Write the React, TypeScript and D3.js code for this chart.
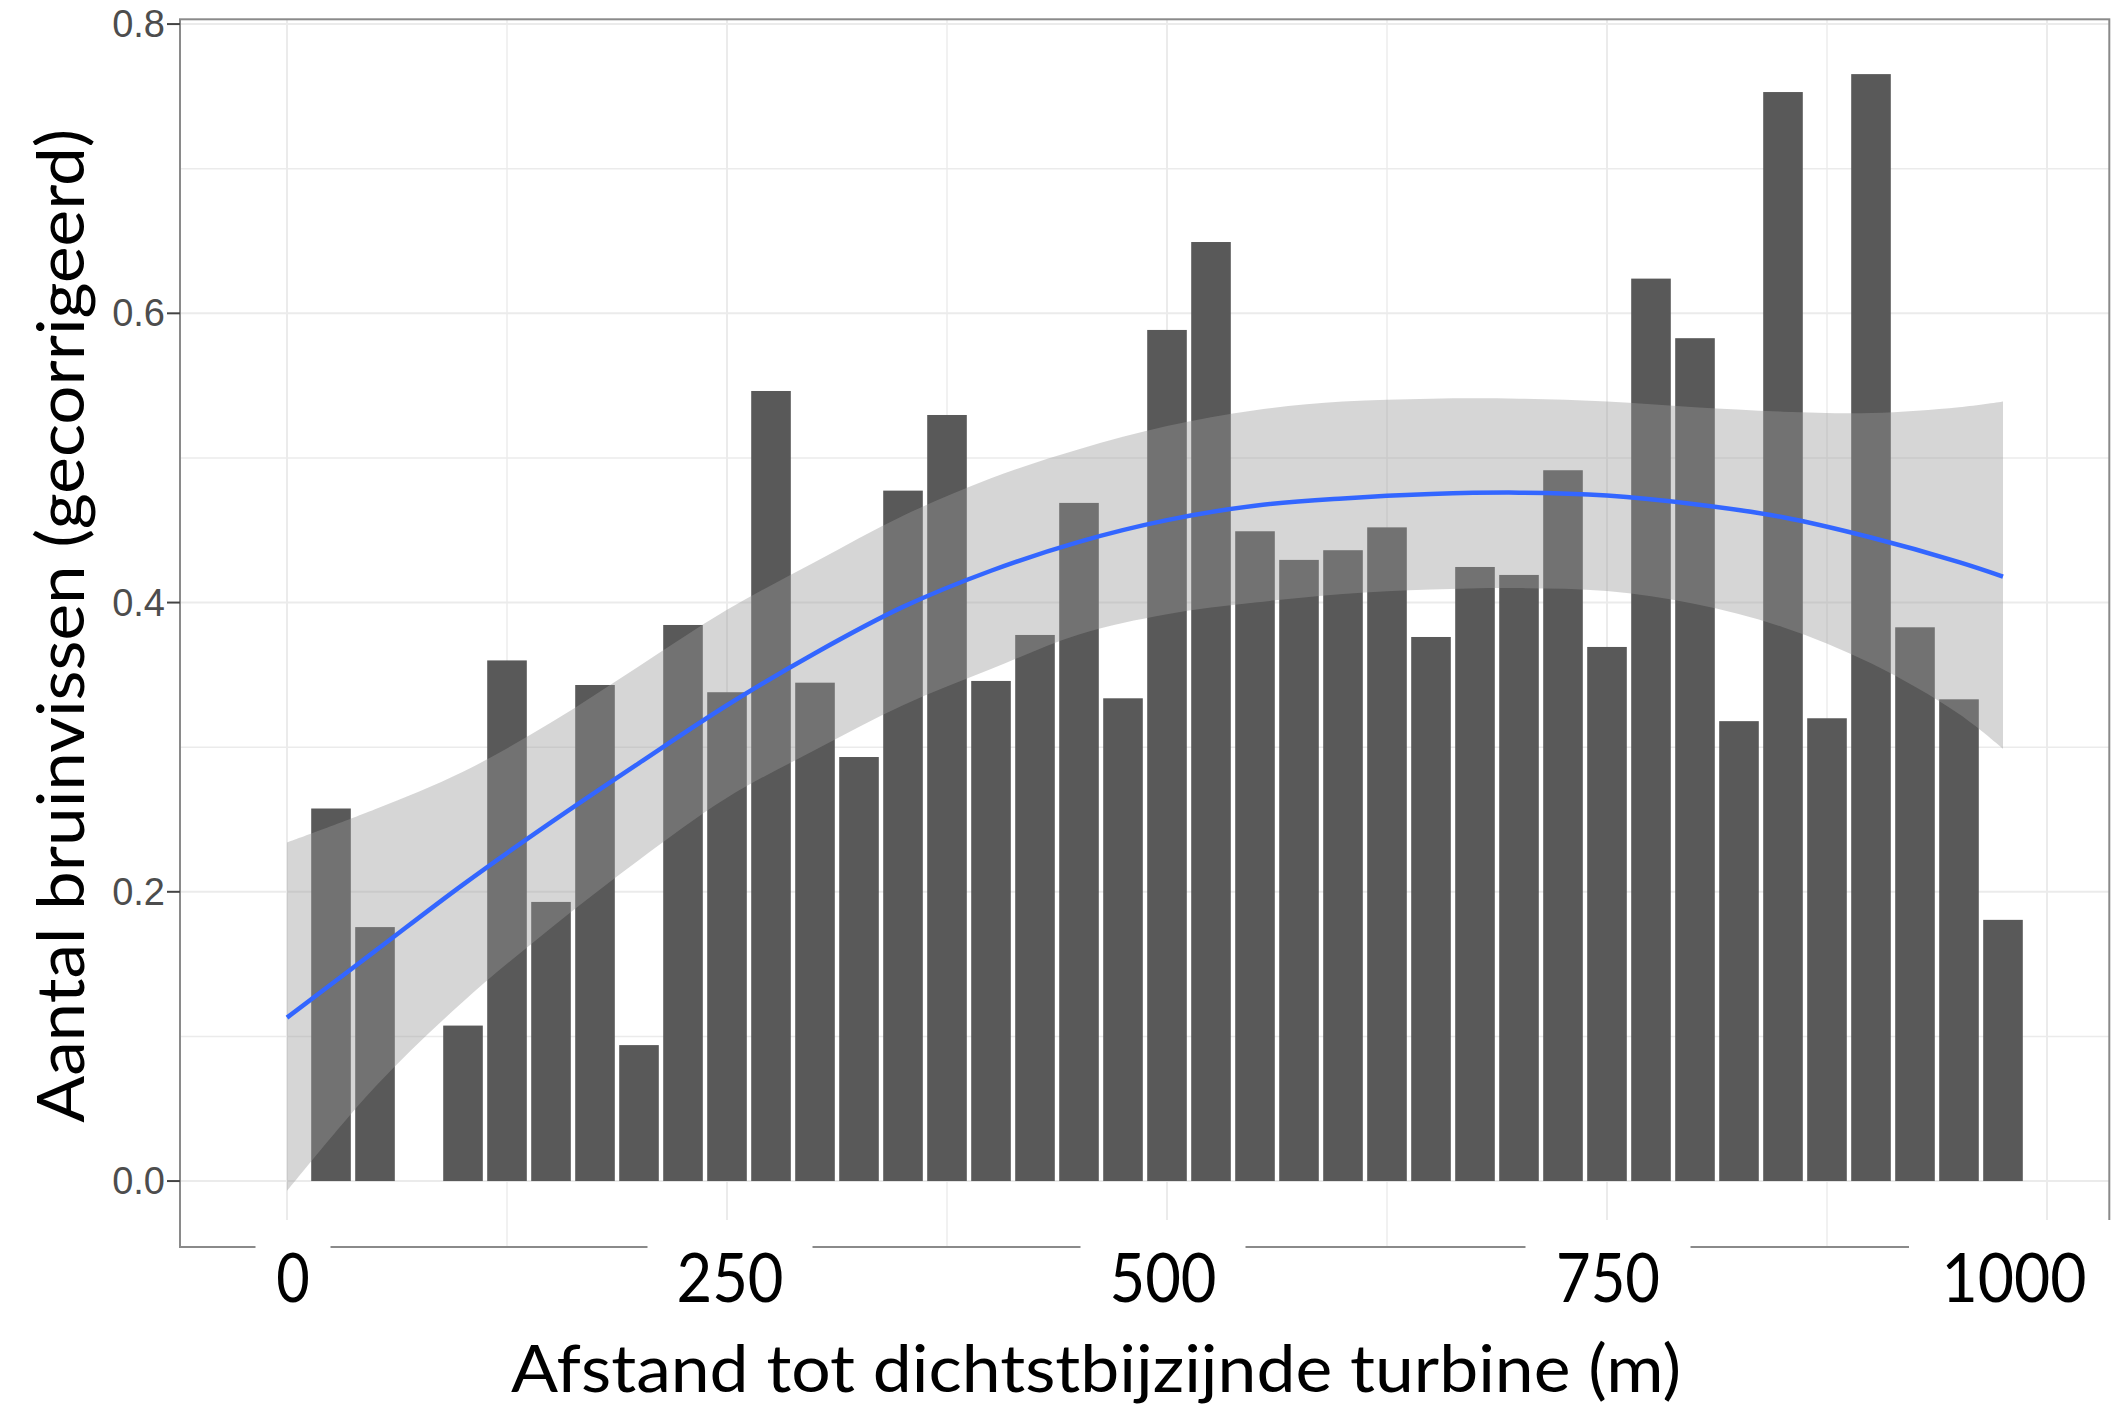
import React from 'react';
import * as d3 from 'd3';

// ---- data ----
const binCenters = [25, 50, 75, 100, 125, 150, 175, 200, 225, 250, 275, 300, 325, 350, 375, 400, 425, 450, 475, 500, 525, 550, 575, 600, 625, 650, 675, 700, 725, 750, 775, 800, 825, 850, 875, 900, 925, 950, 975];
const barValues: (number | null)[] = [0.2576, 0.1756, null, 0.1075, 0.360, 0.193, 0.343, 0.094, 0.3845, 0.338, 0.5463, 0.3446, 0.2932, 0.4774, 0.5297, 0.3458, 0.3776, 0.4689, 0.3338, 0.5885, 0.6493, 0.4493, 0.4295, 0.4362, 0.452, 0.3762, 0.4246, 0.4191, 0.4915, 0.3693, 0.624, 0.5828, 0.318, 0.753, 0.320, 0.7654, 0.3829, 0.3331, 0.1806];

const smoothX = [0, 50, 100, 150, 200, 250, 300, 350, 400, 450, 500, 550, 600, 650, 700, 750, 800, 850, 900, 950, 975];
const smoothFit = [0.113, 0.159, 0.205, 0.248, 0.289, 0.329, 0.365, 0.397, 0.422, 0.442, 0.457, 0.467, 0.472, 0.475, 0.476, 0.474, 0.468, 0.459, 0.445, 0.428, 0.418];
const smoothUpper = [0.234, 0.257, 0.283, 0.317, 0.356, 0.395, 0.428, 0.460, 0.486, 0.506, 0.522, 0.533, 0.539, 0.541, 0.541, 0.539, 0.535, 0.532, 0.531, 0.535, 0.539];
const smoothLower = [-0.007, 0.065, 0.124, 0.175, 0.222, 0.265, 0.298, 0.329, 0.354, 0.378, 0.392, 0.400, 0.406, 0.409, 0.410, 0.408, 0.399, 0.383, 0.358, 0.323, 0.299];

const xTicks = [0, 250, 500, 750, 1000];
const xTickLabels = ['0', '250', '500', '750', '1000'];
const xMinor = [125, 375, 625, 875];
const yTicks = [0, 0.2, 0.4, 0.6, 0.8];
const yTickLabels = ['0.0', '0.2', '0.4', '0.6', '0.8'];
const yMinor = [0.1, 0.3, 0.5, 0.7];

const xTitle = 'Afstand tot dichtstbijzijnde turbine (m)';
const yTitle = 'Aantal bruinvissen (gecorrigeerd)';

// ---- layout ----
const W = 2121;
const H = 1407;
const pL = 180, pR = 2109.3, pT = 19.3, pB = 1247;
const labelNudge = [6, 3, -4, 1, -33];
const labelWidths = [33.5, 107, 107, 104, 145];

export default function App() {
  const x = d3.scaleLinear().domain([-60.8, 1035.4]).range([pL, pR]);
  const y = d3.scaleLinear().domain([-0.0456, 0.8033]).range([pB, pT]);
  const binW = 25 * 0.9;

  const band = smoothX.map((v, i) => ({ x: v, lo: smoothLower[i], hi: smoothUpper[i], fit: smoothFit[i] }));
  const area = d3.area<any>().x(d => x(d.x)).y0(d => y(d.lo)).y1(d => y(d.hi)).curve(d3.curveCatmullRom);
  const line = d3.line<any>().x(d => x(d.x)).y(d => y(d.fit)).curve(d3.curveCatmullRom);

  const gridMajor = '#EBEBEB';
  const borderCol = '#8A8A8A';

  return (
    <svg width={W} height={H} style={{ position: 'absolute', left: 0, top: 0, background: '#fff' }}>
      <rect x={0} y={0} width={W} height={H} fill="#fff" />
      {/* grid */}
      {yMinor.map(v => (
        <line key={'ym' + v} x1={pL} x2={pR} y1={y(v)} y2={y(v)} stroke={gridMajor} strokeWidth={1.4} />
      ))}
      {xMinor.map(v => (
        <line key={'xm' + v} x1={x(v)} x2={x(v)} y1={pT} y2={pB} stroke={gridMajor} strokeWidth={1.4} />
      ))}
      {yTicks.map(v => (
        <line key={'yM' + v} x1={pL} x2={pR} y1={y(v)} y2={y(v)} stroke={gridMajor} strokeWidth={2} />
      ))}
      {xTicks.map(v => (
        <line key={'xM' + v} x1={x(v)} x2={x(v)} y1={pT} y2={pB} stroke={gridMajor} strokeWidth={2} />
      ))}
      {/* bars */}
      {binCenters.map((c, i) => {
        const v = barValues[i];
        if (v == null) return null;
        return (
          <rect key={'b' + c} x={x(c - binW / 2)} width={x(c + binW / 2) - x(c - binW / 2)} y={y(v)} height={y(0) - y(v)} fill="#595959" />
        );
      })}
      {/* smooth */}
      <path d={area(band) || ''} fill="#999999" fillOpacity={0.4} />
      <path d={line(band) || ''} fill="none" stroke="#3366FF" strokeWidth={4.5} />
      {/* panel border */}
      <rect x={pL} y={pT} width={pR - pL} height={pB - pT} fill="none" stroke={borderCol} strokeWidth={2} />
      {/* y axis ticks and labels */}
      {yTicks.map((v, i) => (
        <g key={'yt' + v}>
          <line x1={pL - 13} x2={pL} y1={y(v)} y2={y(v)} stroke="#444" strokeWidth={2} />
          <text x={pL - 15} y={y(v)} textAnchor="end" dominantBaseline="central" fontFamily="'Liberation Sans', Arial, sans-serif" fontSize={38} fill="#4D4D4D">
            {yTickLabels[i]}
          </text>
        </g>
      ))}
      {/* x labels with white boxes */}
      {xTicks.map((v, i) => {
        const cx = x(v) + labelNudge[i];
        const bw = 45 * xTickLabels[i].length + 30;
        const tw = labelWidths[i];
        return (
          <g key={'xt' + v}>
            <rect x={cx - bw / 2} y={1220} width={bw} height={100} fill="#fff" />
            <text x={cx - tw / 2} y={1301.5} textLength={tw} lengthAdjust="spacingAndGlyphs" fontFamily="Lato, 'Open Sans', sans-serif" fontSize={67} fill="#000">
              {xTickLabels[i]}
            </text>
          </g>
        );
      })}
      {/* titles */}
      <text x={511} y={1391.5} textLength={1170} lengthAdjust="spacingAndGlyphs" fontFamily="Lato, 'Open Sans', sans-serif" fontSize={65} fill="#000">
        {xTitle}
      </text>
      <text transform="translate(84,1122.7) rotate(-90)" x={0} y={0} textLength={994} lengthAdjust="spacingAndGlyphs" fontFamily="Lato, 'Open Sans', sans-serif" fontSize={66} fill="#000">
        {yTitle}
      </text>
    </svg>
  );
}
